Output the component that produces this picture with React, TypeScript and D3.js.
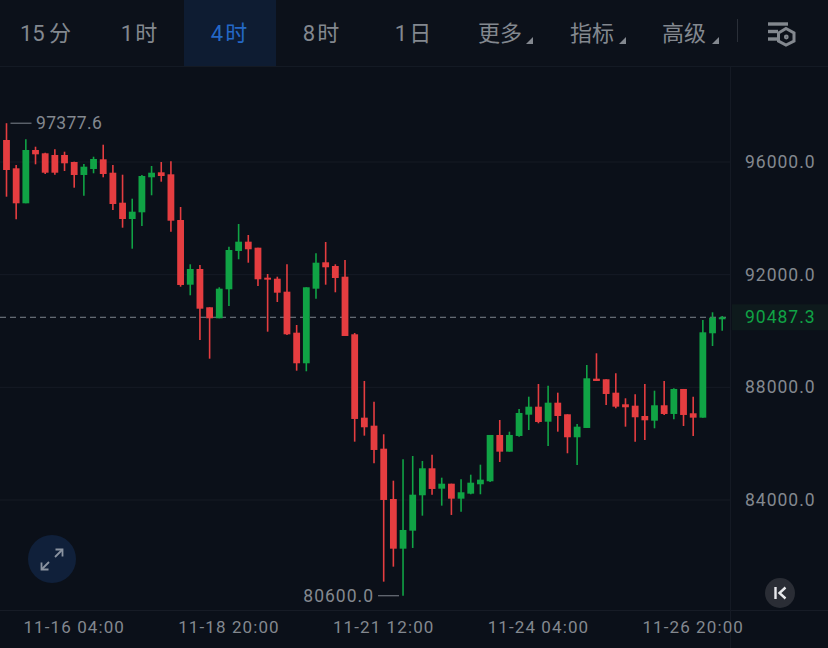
import React from "react";
import * as d3 from "d3";

const opens = [96781,95776,94534,96426,96309,96249,96249,96000,95539,95752,96096,95620,94555,93976,94214,95457,95634,95563,93941,91644,92202,90842,90451,91481,92841,93171,92958,91893,91857,91396,89940,88854,91502,92439,92308,91928,89883,86923,86639,85822,84036,82272,82911,84168,85126,84402,84579,84047,84225,84558,84665,86309,85716,86273,87029,87313,86780,87455,87043,86227,86557,88307,88286,87810,87398,87349,86983,86816,87363,87054,87942,87079,86923,89919,90416];
const highs = [97377.6,95894,96806,96543,96330,96451,96366,96011,95929,96188,96614,95894,95549,94697,95539,95858,96000,96025,94402,92368,92344,90842,91552,92993,93799,93409,92958,92024,91928,92368,90214,91552,92759,93160,92368,92521,89930,88226,87490,86333,84686,85446,85563,85386,85609,84793,84579,84736,84899,85254,86309,86841,86426,87232,87668,88119,88059,87810,87043,86699,88794,89209,88286,88499,87611,87753,88119,87881,88226,87966,87942,87668,90391,90664,90533];
const lows = [94768,93966,94534,95918,95574,95549,95681,95088,94804,95599,95457,94296,93668,92922,93728,94818,95301,93526,91573,91268,89681,89017,90451,90888,92546,92425,91598,89976,91030,89859,88591,88570,91147,91644,91374,89823,86071,86284,85304,81101,81633,80600,82297,83443,84189,83799,83469,83586,84203,84203,84640,85350,85716,86248,86486,86724,85918,86426,85659,85244,86557,88226,87374,87256,86603,86071,86131,86546,87019,86866,86628,86273,86923,89468,90011];
const closes = [95716,94534,96426,96273,95620,95620,95954,95539,95833,96107,95574,94509,93976,94236,95503,95620,95503,93916,91634,92202,90792,90451,91502,92876,93171,92901,91836,91822,91360,89883,88854,91552,92425,92262,91882,89823,86877,86582,85776,84001,82272,82936,84189,85126,84392,84579,84047,84274,84615,84722,86309,85716,86309,87090,87313,86770,87455,86983,86227,86603,88321,88226,87764,87313,87292,86937,86830,87363,87054,87942,87019,86923,89954,90473,90487.3];

const priceTicks = [96000, 92000, 88000, 84000];
const timeLabels = ["11-16 04:00", "11-18 20:00", "11-21 12:00", "11-24 04:00", "11-26 20:00"];
const timeIndices = [7, 23, 39, 55, 71];
const tabs = ["15\u2009分", "1\u200A时", "4\u200A时", "8\u200A时", "1\u200A日", "更多", "指标", "高级"];
const tabCenters = [45.5, 139, 229, 321, 413, 500, 592, 684];
const activeTab = 2;
const lastPrice = 90487.3;
const maxPrice = 97377.6;
const minPrice = 80600;

const BG = "#0b1019";
const UP = "#10a345";
const DOWN = "#e53d40";
const TXT = "#83888f";
const LATIN = "Roboto, 'Noto Sans CJK SC', sans-serif";

export default function App() {
  const y = d3.scaleLinear().domain([96000, 84000]).range([162, 500]);
  const x = d3.scaleLinear().domain([0, 74]).range([6.5, 722.2]);
  const bodyW = 6.8;
  return (
    <svg width={828} height={648} viewBox="0 0 828 648" style={{ position: "absolute", left: 0, top: 0, display: "block", background: BG }} fontFamily={LATIN}>
      <rect width={828} height={648} fill={BG} />
      <rect x={0} y={0} width={828} height={66} fill="#0c111a" />
      <rect x={184} y={0} width={92} height={66} fill="#0e1c32" />
      <line x1={0} x2={828} y1={66.5} y2={66.5} stroke="#141a24" />
      <line x1={0} x2={828} y1={610.5} y2={610.5} stroke="#171c26" />
      <line x1={730.5} x2={730.5} y1={67} y2={648} stroke="#151a24" />

      {tabs.map((t, i) => {
        const isActive = i === activeTab;
        return (
          <text key={t} x={tabCenters[i]} y={41} textAnchor="middle" fontSize={22} fill={isActive ? "#2468c6" : TXT} fontFamily={LATIN}>
            {t}
          </text>
        );
      })}
      {[526, 619, 712].map(tx => (
        <polygon key={tx} points={`${tx + 7},37 ${tx + 7},44 ${tx},44`} fill={TXT} />
      ))}
      <line x1={737.5} x2={737.5} y1={19} y2={42} stroke="#2a2f38" />
      <g fill="none" stroke={TXT}>
        <line x1={768} x2={788} y1={24} y2={24} strokeWidth={3.4} />
        <line x1={768} x2={778} y1={31.5} y2={31.5} strokeWidth={3.4} />
        <line x1={768} x2={777} y1={39} y2={39} strokeWidth={3.4} />
        <polygon points="786,28.5 794,33 794,41 786,45 778.5,41 778.5,33" strokeWidth={3} />
        <circle cx={786.3} cy={37} r={1.4} strokeWidth={2} />
      </g>

      {priceTicks.map(p => (
        <g key={p}>
          <line x1={0} x2={730} y1={y(p)} y2={y(p)} stroke="#161b25" />
          <text x={745} y={y(p) + 6} fontSize={17.5} letterSpacing={1} fill={TXT}>{d3.format(".1f")(p)}</text>
        </g>
      ))}

      <line x1={0} x2={730} y1={y(lastPrice)} y2={y(lastPrice)} stroke="#7f858e" strokeWidth={1} strokeDasharray="6 4" />
      <rect x={732} y={y(lastPrice) - 13} width={96} height={26} fill="#0e1a1c" />
      <text x={745} y={y(lastPrice) + 6} fontSize={17.5} letterSpacing={1} fill={UP}>{d3.format(".1f")(lastPrice)}</text>

      {opens.map((o, i) => {
        const c = closes[i];
        const color = c >= o ? UP : DOWN;
        const top = y(Math.max(o, c));
        const bottom = y(Math.min(o, c));
        return (
          <g key={i}>
            <line x1={x(i)} x2={x(i)} y1={y(highs[i])} y2={y(lows[i])} stroke={color} strokeWidth={1.6} />
            <rect x={x(i) - bodyW / 2} y={top} width={bodyW} height={Math.max(bottom - top, 1.5)} fill={color} />
          </g>
        );
      })}

      <line x1={x(0) + 4} x2={x(0) + 25} y1={y(maxPrice)} y2={y(maxPrice)} stroke="#7f858e" />
      <text x={36} y={y(maxPrice) + 6} fontSize={17.5} letterSpacing={0.35} fill={TXT}>{d3.format(".1f")(maxPrice)}</text>
      <line x1={x(41) - 25} x2={x(41) - 4} y1={y(minPrice)} y2={y(minPrice)} stroke="#7f858e" />
      <text x={374} y={y(minPrice) + 6} textAnchor="end" fontSize={17.5} letterSpacing={1} fill={TXT}>{d3.format(".1f")(minPrice)}</text>

      {timeLabels.map((t, i) => (
        <text key={t} x={x(timeIndices[i])} y={633} textAnchor="middle" fontSize={17} letterSpacing={1.1} fill={TXT}>{t}</text>
      ))}

      <circle cx={52} cy={559} r={24} fill="#10203a" />
      <g stroke="#8b93a0" strokeWidth={1.8} fill="none">
        <line x1={55} x2={62} y1={557} y2={550} />
        <polyline points="55.5,549.5 62.5,549.5 62.5,556.5" />
        <line x1={42} x2={49} y1={569} y2={562} />
        <polyline points="41.5,562.5 41.5,569.5 48.5,569.5" />
      </g>

      <circle cx={780} cy={593} r={15} fill="#2a2d35" />
      <g stroke="#e8e9ec" strokeWidth={2.4} fill="none">
        <line x1={775.5} x2={775.5} y1={587} y2={599} />
        <polyline points="785.5,587.5 779.5,593 785.5,598.5" />
      </g>
    </svg>
  );
}
